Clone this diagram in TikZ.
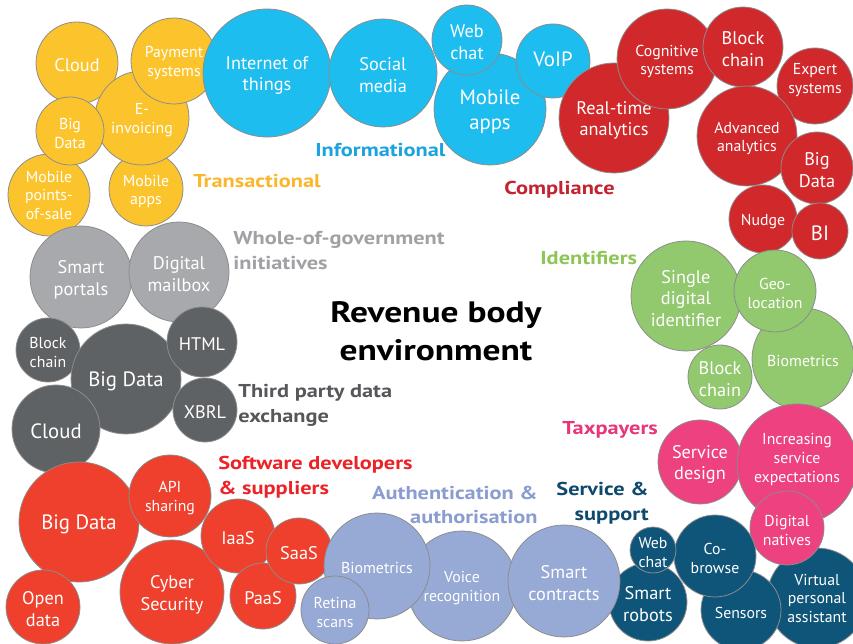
\documentclass[tikz,border=0pt]{standalone}
\usepackage{fontspec}
\setmainfont{PT Sans}
\newfontfamily\headfont[FakeStretch=1.2]{PT Sans}

% bubble fills
\definecolor{yel}{HTML}{FCC42C}
\definecolor{blu}{HTML}{1DBDEF}
\definecolor{cmp}{HTML}{D1282B}
\definecolor{wgv}{HTML}{A7A9AC}
\definecolor{tpd}{HTML}{5F6264}
\definecolor{idf}{HTML}{92C86E}
\definecolor{tax}{HTML}{ED4180}
\definecolor{svc}{HTML}{0F5479}
\definecolor{swd}{HTML}{EE402C}
\definecolor{aut}{HTML}{97A9D5}
\definecolor{bubline}{HTML}{8C8C8C}
% heading colours
\definecolor{yelT}{HTML}{FBB62B}
\definecolor{bluT}{HTML}{1AA3DD}
\definecolor{cmpT}{HTML}{C42230}
\definecolor{wgvT}{HTML}{9FA1A4}
\definecolor{tpdT}{HTML}{55575A}
\definecolor{idfT}{HTML}{8DC655}
\definecolor{taxT}{HTML}{E9357A}
\definecolor{svcT}{HTML}{0E4A6E}
\definecolor{swdT}{HTML}{ED2227}
\definecolor{autT}{HTML}{8B9DD0}

\tikzset{
  bub/.style={circle, draw=bubline, line width=0.45pt, inner sep=0pt},
  bubtxt/.style={inner sep=0pt, align=center, text=white},
  fs/.style={font=\fontsize{9}{10.8}\selectfont},
  fm/.style={font=\fontsize{10.4}{12.4}\selectfont},
  fl/.style={font=\fontsize{11.8}{14}\selectfont},
  grp/.style={font=\headfont\bfseries\fontsize{10.6}{14.2}\selectfont, inner sep=0pt},
}

% \bubble{name}{x}{y}{radius}{fill colour}{text options}{text}
\newcommand{\bubble}[7]{%
  \node[bub, minimum size={#4*0.04cm}, fill=#5] (#1) at (#2,#3) {};
  \node[bubtxt, #6] (#1-t) at ([yshift=-0.05cm]#1.center) {#7};}

\begin{document}
\begin{tikzpicture}[x=0.02cm, y=-0.02cm]
\fill[white] (0,0) rectangle (853,644);
\useasboundingbox (0,0) rectangle (853,644);

% Transactional
\bubble{cloudA}{77}{63}{41}{yel}{fm}{Cloud}
\bubble{mposA}{49}{195}{41}{yel}{fs, yshift=0.04cm}{Mobile\\points-\\of-sale}
\bubble{mappsA}{146}{189}{37}{yel}{fs}{Mobile\\apps}
\bubble{einvA}{142}{118}{47}{yel}{fs}{E-\\invoicing}
\bubble{bigA}{70}{131}{34}{yel}{fs}{Big\\Data}
\bubble{payA}{174}{61}{43}{yel}{fs}{Payment\\systems}

% Informational
\bubble{iotB}{267}{73}{64}{blu}{fm}{Internet of\\things}
\bubble{socB}{383}{73}{54}{blu}{fm}{Social\\media}
\bubble{mappsB}{490}{109}{56}{blu}{fl}{Mobile\\apps}
\bubble{webB}{467}{40}{35}{blu}{fm}{Web\\chat}
\bubble{voipB}{553}{61}{37}{blu}{fl, yshift=0.09cm}{VoIP}

% Compliance
\bubble{rtaC}{614}{118}{55}{cmp}{fm}{Real-time\\analytics}
\bubble{cogC}{667}{59}{50}{cmp}{fs}{Cognitive\\systems}
\bubble{blkC}{743}{47}{40}{cmp}{fm}{Block\\chain}
\bubble{expC}{815}{86}{38}{cmp}{fs, yshift=0.16cm}{Expert\\systems}
\bubble{advC}{747}{136}{50}{cmp}{fs}{Advanced\\analytics}
\bubble{bigC}{817}{168}{36}{cmp}{fm}{Big\\Data}
\bubble{nudC}{763}{219}{34}{cmp}{fs}{Nudge}
\bubble{biC}{820}{231}{28}{cmp}{fl}{BI}

% Whole-of-government initiatives
\bubble{portG}{81}{277}{51}{wgv}{fm}{Smart\\portals}
\bubble{mailG}{179}{272}{50}{wgv}{fm}{Digital\\mailbox}

% Third party data exchange
\bubble{blkD}{48}{350}{32}{tpd}{fs}{Block\\chain}
\bubble{bigD}{126}{379}{55}{tpd}{fl}{Big Data}
\bubble{htmlD}{202}{342}{35}{tpd}{fm}{HTML}
\bubble{xbrlD}{205}{410}{32}{tpd}{fm}{XBRL}
\bubble{cloudD}{56}{429}{44}{tpd}{fl}{Cloud}

% Identifiers
\bubble{sdiG}{686}{296}{55}{idf}{fm}{Single\\digital\\identifier}
\bubble{bioG}{803}{359}{51}{idf}{fs}{Biometrics}
\bubble{geoG}{775}{291}{41}{idf}{fs}{Geo-\\location}
\bubble{blkG}{720}{377}{32}{idf}{fm}{Block\\chain}

% Service & support (lies under the taxpayer bubbles)
\bubble{vpaN}{817}{598}{50}{svc}{fs, yshift=0.04cm}{Virtual\\personal\\assistant}

% Taxpayers
\bubble{sdP}{700}{462}{42}{tax}{fm}{Service\\design}
\bubble{iseP}{797}{464}{60}{tax}{fs, yshift=0.14cm}{Increasing\\service\\expectations}
\bubble{dnP}{787}{528}{37}{tax}{fs}{Digital\\natives}

% Service & support
\bubble{senN}{741}{610}{40}{svc}{fs}{Sensors}
\bubble{robN}{648}{602}{39}{svc}{fm}{Smart\\robots}
\bubble{cobN}{715}{556}{41}{svc}{fs}{Co-\\browse}
\bubble{webN}{653}{550}{23}{svc}{fs}{Web\\chat}

% Software developers & suppliers
\bubble{bigS}{79}{522}{60}{swd}{fl}{Big Data}
\bubble{apiS}{170}{496}{41}{swd}{fs}{API\\sharing}
\bubble{openS}{43}{607}{37}{swd}{fm}{Open\\data}
\bubble{cyberS}{172}{592}{52}{swd}{fm}{Cyber\\Security}
\bubble{iaasS}{238}{536}{37}{swd}{fm}{IaaS}
\bubble{paasS}{263}{596}{33}{swd}{fm}{PaaS}
\bubble{saasS}{299}{551}{33}{swd}{fm}{SaaS}

% Authentication & authorisation
\bubble{voiceL}{462}{586}{55}{aut}{fs}{Voice\\recognition}
\bubble{bioL}{377}{566}{53}{aut}{fs}{Biometrics}
\bubble{retL}{335}{610}{34}{aut}{fs}{Retina\\scans}
\bubble{smartL}{564}{581}{56}{aut}{fm}{Smart\\contracts}

% group headings
\node[grp, text=yelT, anchor=west] (hTrans) at (193,181) {Transactional};
\node[grp, text=bluT, anchor=west] (hInfo) at (315,150) {Informational};
\node[grp, text=cmpT, anchor=west] (hComp) at (504,190) {Compliance};
\node[grp, text=wgvT, anchor=west, align=left] (hWhole) at (233,250.5) {Whole-of-government\\initiatives};
\node[grp, text=idfT, anchor=west] (hIdent) at (540,258) {Identifiers};
\node[grp, text=tpdT, anchor=west, align=left] (hThird) at (238,405.5) {Third party data\\exchange};
\node[grp, text=taxT, anchor=west] (hTax) at (562,430) {Taxpayers};
\node[grp, text=swdT, anchor=west, align=left] (hSoft) at (218,477.5) {Software developers\\\& suppliers};
\node[grp, text=autT, anchor=east, align=right] (hAuth) at (538,505) {Authentication \&\\authorisation};
\node[grp, text=svcT, anchor=east, align=right] (hServ) at (649,503.5) {Service \&\\support};

% centre title
\node[font=\headfont\bfseries\fontsize{16.8}{21.5}\selectfont, align=center, inner sep=0pt] (title) at (436,331) {Revenue body\\environment};
\end{tikzpicture}
\end{document}
